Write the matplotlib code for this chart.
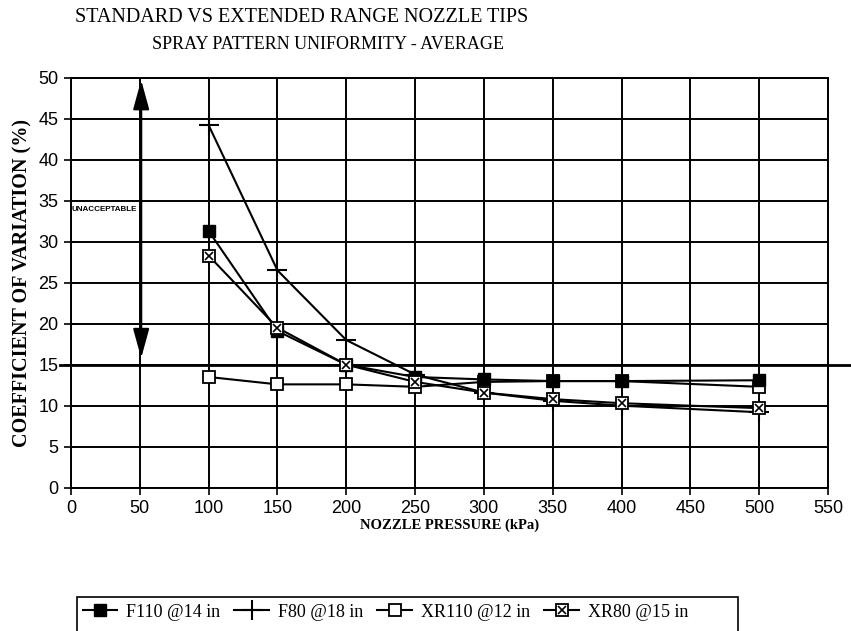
import numpy as np
import matplotlib
matplotlib.use('Agg')
import matplotlib.pyplot as plt
from matplotlib.patches import Rectangle

pressure = [100, 150, 200, 250, 300, 350, 400, 500]
f110 = [31.3, 19.1, 15.0, 13.5, 13.2, 13.0, 13.0, 13.1]
f80 = [44.2, 26.5, 18.0, 13.8, 11.6, 10.6, 10.0, 9.2]
xr110 = [13.5, 12.6, 12.6, 12.3, 12.9, 13.0, 13.0, 12.3]
xr80 = [28.3, 19.5, 15.0, 12.9, 11.6, 10.8, 10.3, 9.7]

labels = ['F110 @14 in', 'F80 @18 in', 'XR110 @12 in', 'XR80 @15 in']
xticks = np.arange(0, 551, 50)
yticks = np.arange(0, 51, 5)

serif = 'Liberation Serif'
sans = 'Liberation Sans'

fig = plt.figure(figsize=(8.51, 6.31), dpi=100)
ax = fig.add_axes([0.0834, 0.2271, 0.8896, 0.6499])

ax.set_xlim(0, 550)
ax.set_ylim(0, 50)
ax.set_xticks(xticks)
ax.set_yticks(yticks)
ax.grid(True, color='black', lw=1.4)
ax.set_axisbelow(True)
for s in ax.spines.values():
    s.set_linewidth(1.4)
ax.tick_params(direction='inout', length=10, width=1.2, labelsize=13, pad=4)
for lab in ax.get_xticklabels() + ax.get_yticklabels():
    lab.set_family(sans)

# acceptability threshold line, runs past the axes
ax.plot([-0.015, 1.03], [15, 15], color='black', lw=2.0,
        transform=ax.get_yaxis_transform(), clip_on=False)

lw = 1.5
h3, = ax.plot(pressure, xr110, color='black', lw=lw, marker='s', ms=9,
              mfc='white', mec='black', mew=1.3)
h2, = ax.plot(pressure, f80, color='black', lw=lw, marker='+', ms=14, mew=1.5)
h1, = ax.plot(pressure, f110, color='black', lw=lw, marker='s', ms=9,
              mfc='black', mec='black')
h4a, = ax.plot(pressure, xr80, color='black', lw=lw, marker='s', ms=9,
               mfc='white', mec='black', mew=1.3)
h4b, = ax.plot(pressure, xr80, color='none', marker='x', ms=6,
               mec='black', mew=1.2)

# unacceptable range arrow
ax.annotate('', xy=(51, 49.7), xytext=(51, 15.8),
            arrowprops=dict(arrowstyle='<|-|>,head_length=1.2,head_width=0.33',
                            lw=1.6, color='black', shrinkA=0, shrinkB=0,
                            mutation_scale=15))
ax.text(0.5, 33.9, 'UNACCEPTABLE', fontsize=5.8, fontweight='bold',
        family=sans, va='center', ha='left')

ax.set_xlabel('NOZZLE PRESSURE (kPa)', family=serif, fontweight='bold',
              fontsize=10.5, labelpad=1)
fig.text(0.027, 0.5515, 'COEFFICIENT OF VARIATION (%)', rotation=90,
         family=serif, fontweight='bold', fontsize=14.5, ha='center', va='center')

fig.text(0.088, 0.972, 'STANDARD VS EXTENDED RANGE NOZZLE TIPS', family=serif,
         fontsize=14.5, ha='left', va='center')
fig.text(0.386, 0.93, 'SPRAY PATTERN UNIFORMITY - AVERAGE', family=serif,
         fontsize=13, ha='center', va='center')

leg = fig.legend([h1, h2, h3, (h4a, h4b)], labels, ncol=4,
                 loc='center left', bbox_to_anchor=(0.097, 0.030),
                 frameon=False, prop={'family': serif, 'size': 13},
                 handlelength=1.9, columnspacing=0.8, handletextpad=0.5,
                 borderpad=0.0, borderaxespad=0.0)

# legend frame is wider than the entries
fig.patches.append(Rectangle((77 / 851, -0.01), (738 - 77) / 851,
                             0.01 + (631 - 597) / 631, transform=fig.transFigure,
                             fill=False, edgecolor='black', lw=1.2))

fig.savefig('out.png', dpi=100, facecolor='white')
